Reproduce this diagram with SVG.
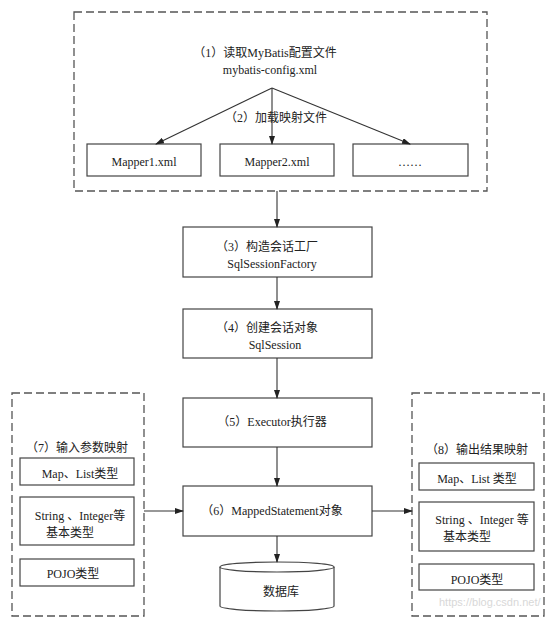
<svg xmlns="http://www.w3.org/2000/svg" width="553" height="628" viewBox="0 0 553 628">
<defs>
<style>
.t{font-family:"Liberation Serif","Noto Sans CJK SC",serif;font-size:12px;fill:#222;text-anchor:middle}
.b{fill:#fff;stroke:#444;stroke-width:1.2}
.d{fill:none;stroke:#555;stroke-width:1.3;stroke-dasharray:8 4}
.c{fill:none;stroke:#333;stroke-width:1.1;marker-end:url(#ah)}
.w{font-family:"Liberation Sans",sans-serif;font-size:11px;fill:#d8d8d8}
</style>
<marker id="ah" markerWidth="9" markerHeight="6" refX="8" refY="3" orient="auto" markerUnits="userSpaceOnUse">
<path d="M0,0 L9,3 L0,6 Z" fill="#222"/>
</marker>
</defs>
<rect width="553" height="628" fill="#fff"/>

<g id="config-group">
<rect class="d" x="74" y="12" width="413" height="179"/>
<text class="t" x="265" y="57">（1）读取MyBatis配置文件</text>
<text class="t" x="270" y="74">mybatis-config.xml</text>
<text class="t" x="276" y="122">（2）加载映射文件</text>
</g>
<g id="mapper1"><rect class="b" x="87" y="144" width="114" height="32"/><text class="t" x="144" y="166">Mapper1.xml</text></g>
<g id="mapper2"><rect class="b" x="220" y="144" width="114" height="32"/><text class="t" x="277" y="166">Mapper2.xml</text></g>
<g id="mapper3"><rect class="b" x="353" y="144" width="115" height="32"/><text class="t" x="410" y="166">……</text></g>

<g id="factory"><rect class="b" x="183" y="227" width="189" height="50"/>
<text class="t" x="267" y="251">（3）构造会话工厂</text><text class="t" x="272" y="268">SqlSessionFactory</text></g>
<g id="session"><rect class="b" x="183" y="309" width="189" height="49"/>
<text class="t" x="267" y="332">（4）创建会话对象</text><text class="t" x="275" y="349">SqlSession</text></g>
<g id="executor"><rect class="b" x="183" y="398" width="189" height="49"/>
<text class="t" x="272" y="426">（5）Executor执行器</text></g>
<g id="mapped"><rect class="b" x="183" y="486" width="189" height="50"/>
<text class="t" x="272" y="515">（6）MappedStatement对象</text></g>
<g id="database">
<path class="b" d="M220,567 L220,606 A57,5 0 0 0 334,606 L334,567"/>
<ellipse class="b" cx="277" cy="567" rx="57" ry="5"/>
<text class="t" x="281" y="596">数据库</text>
</g>

<g id="input-mapping">
<rect class="d" x="12" y="393" width="132" height="223"/>
<text class="t" x="77" y="452">（7）输入参数映射</text>
<rect class="b" x="20" y="458" width="114" height="27"/><text class="t" x="80" y="478">Map、List类型</text>
<rect class="b" x="20" y="497" width="114" height="48"/><text class="t" x="80" y="520">String 、Integer等</text><text class="t" x="70" y="537">基本类型</text>
<rect class="b" x="20" y="559" width="114" height="27"/><text class="t" x="73" y="578">POJO类型</text>
</g>

<g id="output-mapping">
<rect class="d" x="412" y="393" width="132" height="223"/>
<text class="t" x="477" y="454">（8）输出结果映射</text>
<rect class="b" x="419" y="463" width="115" height="27"/><text class="t" x="477" y="483">Map、List 类型</text>
<rect class="b" x="419" y="502" width="115" height="49"/><text class="t" x="482" y="524">String 、Integer 等</text><text class="t" x="467" y="541">基本类型</text>
<rect class="b" x="419" y="564" width="115" height="26"/><text class="t" x="477" y="584">POJO类型</text>
</g>

<g id="connectors">
<line class="c" x1="272" y1="88" x2="156" y2="144"/>
<line class="c" x1="272" y1="88" x2="272" y2="144"/>
<line class="c" x1="272" y1="88" x2="410" y2="144"/>
<line class="c" x1="277" y1="191" x2="277" y2="227"/>
<line class="c" x1="277" y1="277" x2="277" y2="309"/>
<line class="c" x1="277" y1="358" x2="277" y2="398"/>
<line class="c" x1="277" y1="447" x2="277" y2="486"/>
<line class="c" x1="277" y1="536" x2="277" y2="562"/>
<line class="c" x1="144" y1="511" x2="183" y2="511"/>
<line class="c" x1="372" y1="511" x2="412" y2="511"/>
</g>

<text class="w" x="439" y="606">https://blog.csdn.net/</text>
</svg>
